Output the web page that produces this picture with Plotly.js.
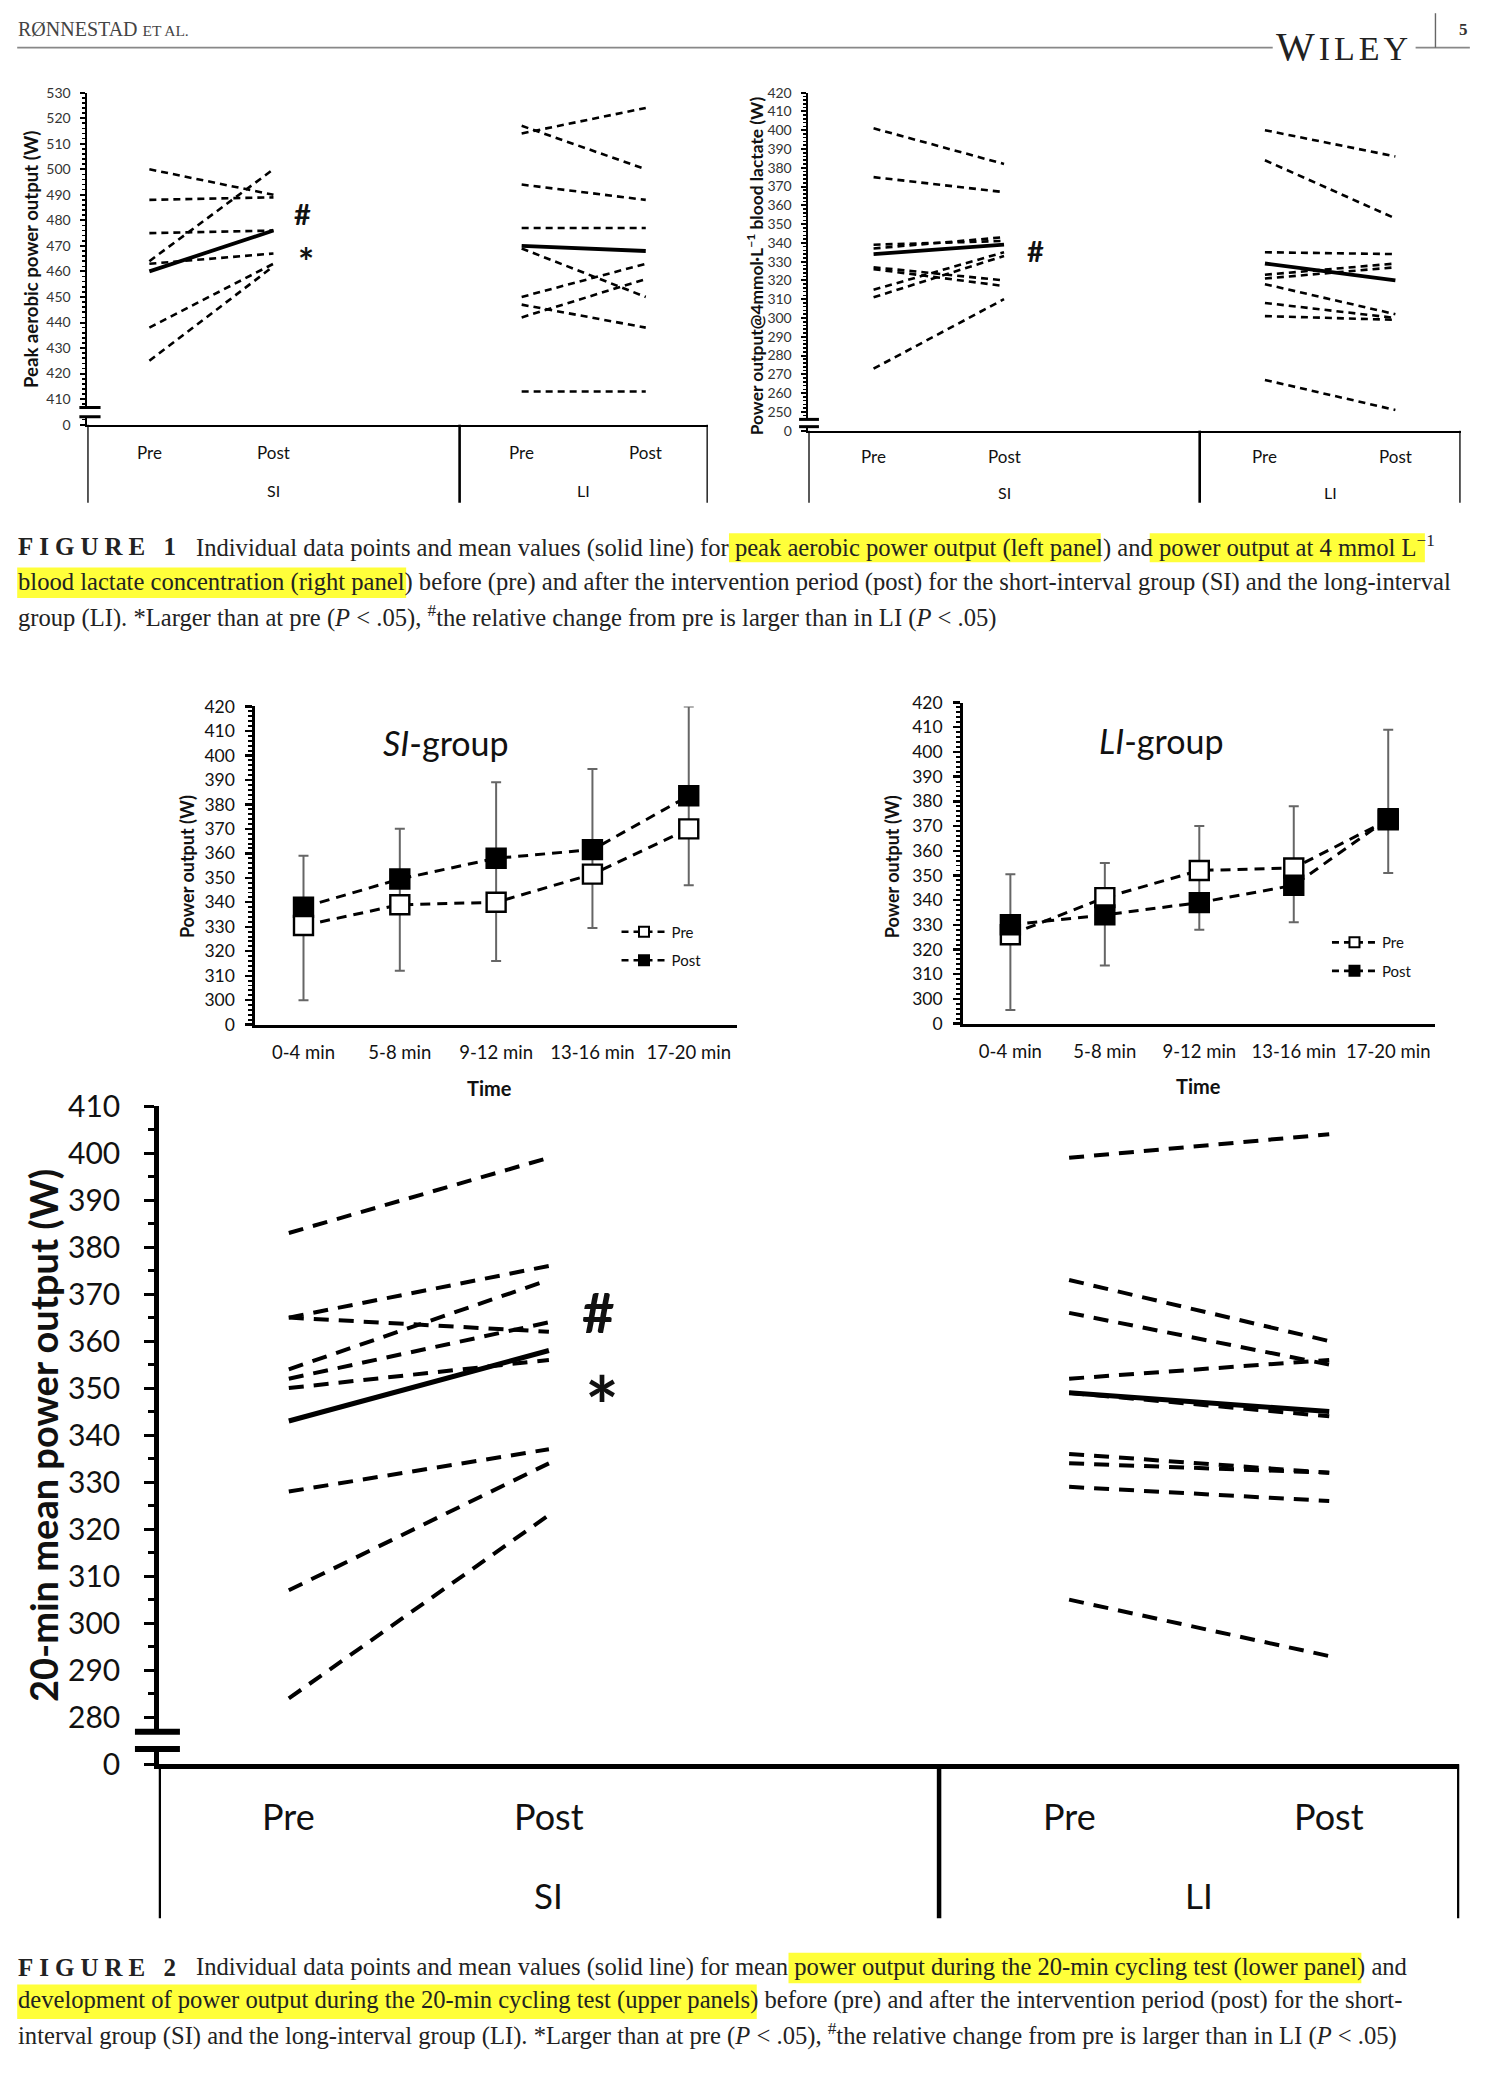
<!DOCTYPE html>
<html>
<head>
<meta charset="utf-8">
<script src="https://cdn.plot.ly/plotly-3.0.1.min.js"></script>
<style>
html,body{margin:0;padding:0;background:#fff;}
#chart{width:1504px;height:2074px;}
</style>
</head>
<body>
<div id="chart"></div>
<script>
// ================= DATA =================
// x slots of the Pre/Post panels (blank slot separates the groups)
const groupSlots  = ['SI Pre', 'SI Post', '', 'LI Pre', 'LI Post'];
const phaseLabels = ['Pre', 'Post'];
const groupLabels = ['SI', 'LI'];

// Figure 1, left: peak aerobic power output (W)
const peakSIPre  = [500, 488, 464, 475, 463, 438, 425];
const peakSIPost = [490, 489, 500, 476, 467, 463, 462];
const peakSIMean = [460, 476];
const peakLIPre  = [514, 517, 494, 477, 469, 450, 447, 442, 413];
const peakLIPost = [524, 500, 488, 477, 450, 463, 438, 457, 413];
const peakLIMean = [470, 468];
const peakTicks    = [400, 410, 420, 430, 440, 450, 460, 470, 480, 490, 500, 510, 520, 530];
const peakTickText = ['0', '410', '420', '430', '440', '450', '460', '470', '480', '490', '500', '510', '520', '530'];

// Figure 1, right: power output at 4 mmol/L blood lactate (W)
const lacSIPre  = [401, 375, 339, 337, 327, 326, 315, 311, 273];
const lacSIPost = [382, 367, 341, 343, 320, 317, 335, 333, 310];
const lacSIMean = [334, 339];
const lacLIPre  = [400, 384, 335, 323, 321, 318, 308, 301, 267];
const lacLIPost = [386, 353, 334, 329, 327, 302, 300, 299, 251];
const lacLIMean = [329, 320];
const lacTicks    = [240, 250, 260, 270, 280, 290, 300, 310, 320, 330, 340, 350, 360, 370, 380, 390, 400, 410, 420];
const lacTickText = ['0', '250', '260', '270', '280', '290', '300', '310', '320', '330', '340', '350', '360', '370', '380', '390', '400', '410', '420'];

// Figure 2, upper panels: power output during the 20-min test (W)
const timeLabels = ['0-4 min', '5-8 min', '9-12 min', '13-16 min', '17-20 min'];
const siTimePre   = [330.5, 339, 340, 351.5, 370];
const siTimePost  = [338, 349.5, 358, 361.5, 383.5];
const siErrHigh   = [359, 370, 389, 394.5, 420];
const siErrLow    = [300, 312, 316, 329.5, 347];
const liTimePre   = [326, 341, 352, 353, 372.5];
const liTimePost  = [330, 334, 339, 346, 373];
const liErrHigh   = [350.5, 355, 370, 378, 409];
const liErrLow    = [295.5, 313.5, 328, 331, 351];
const timeTicks    = [290, 300, 310, 320, 330, 340, 350, 360, 370, 380, 390, 400, 410, 420];
const timeTickText = ['0', '300', '310', '320', '330', '340', '350', '360', '370', '380', '390', '400', '410', '420'];

// Figure 2, lower panel: 20-min mean power output (W)
const mpSIPre  = [383, 365, 365, 354, 352, 350, 328, 307, 284];
const mpSIPost = [399, 376, 362, 373, 364, 356, 337, 334, 323];
const mpSIMean = [343, 358];
const mpLIPre  = [399, 373, 366, 352, 349, 336, 334, 329, 305];
const mpLIPost = [404, 360, 355, 356, 344, 332, 332, 326, 293];
const mpLIMean = [349, 345];
const mpTicks    = [270, 280, 290, 300, 310, 320, 330, 340, 350, 360, 370, 380, 390, 400, 410];
const mpTickText = ['0', '280', '290', '300', '310', '320', '330', '340', '350', '360', '370', '380', '390', '400', '410'];

// ================= LAYOUT HELPERS =================
const W = 1504, H = 2074;
const S = 1.323;                      // reference-display px -> page px
const fx = d => d * S / W;            // paper x
const fy = d => 1 - d * S / H;        // paper y
const slot = name => groupSlots.indexOf(name);
const FONT = 'Lato, "Open Sans", sans-serif';
const SERIF = '"Liberation Serif", "DejaVu Serif", serif';

const traces = [];
const shapes = [];
const annotations = [];

function ann(text, xd, yd, size, extra) {
  return Object.assign({
    text: text, xref: 'paper', yref: 'paper', x: fx(xd), y: fy(yd),
    showarrow: false, xanchor: 'center', yanchor: 'middle',
    font: {family: FONT, size: size, color: '#111'}
  }, extra || {});
}

function pairPanel(ax, pre, post, mean, group, st) {
  const xs = [slot(group + ' Pre'), slot(group + ' Post')];
  pre.forEach((v, i) => traces.push({
    type: 'scatter', mode: 'lines', x: xs, y: [v, post[i]],
    xaxis: 'x' + ax, yaxis: 'y' + ax, showlegend: false, hoverinfo: 'skip',
    line: {color: '#000', width: st.w, dash: st.dash}
  }));
  traces.push({
    type: 'scatter', mode: 'lines', x: xs, y: mean,
    xaxis: 'x' + ax, yaxis: 'y' + ax, showlegend: false, hoverinfo: 'skip',
    line: {color: '#000', width: st.mw}
  });
}

function yAxis(botD, topD, ticks, text, o) {
  return {
    domain: [fy(botD), fy(topD)], range: [ticks[0], ticks[ticks.length - 1]],
    tickmode: 'array', tickvals: ticks, ticktext: text,
    ticks: 'outside', ticklen: o.tl, tickwidth: o.tw, tickcolor: '#000',
    minor: {tickmode: 'linear', tick0: ticks[0], dtick: o.minor, ticks: 'outside',
            ticklen: o.ml, tickwidth: o.tw * 0.8, tickcolor: '#000'},
    showline: true, linewidth: o.lw, linecolor: '#000',
    showgrid: false, zeroline: false, fixedrange: true,
    tickfont: {family: o.family || FONT, size: o.fs, color: o.col || '#111'},
    ticklabelstandoff: o.so, anchor: o.anchor
  };
}

function slotXAxis(lD, rD, anchor, lw) {
  return {
    domain: [fx(lD), fx(rD)], range: [-0.5, groupSlots.length - 0.5],
    showticklabels: false, ticks: '', showgrid: false, zeroline: false,
    showline: true, linewidth: lw, linecolor: '#000', anchor: anchor, fixedrange: true
  };
}

// table lines under a Pre/Post panel, group & phase labels, axis break
function tableDecor(ax, baseD, bottomD, lw, phaseY, groupY, phaseSize, groupSize, brk) {
  [-0.5, 2.5, groupSlots.length - 0.5].forEach(xv => shapes.push({
    type: 'line', xref: 'x' + ax, yref: 'paper', x0: xv, x1: xv,
    y0: fy(baseD), y1: fy(bottomD), line: {color: '#000', width: lw}
  }));
  ['SI', 'LI'].forEach(g => phaseLabels.forEach(p => annotations.push({
    text: p, xref: 'x' + ax, yref: 'paper', x: slot(g + ' ' + p), y: fy(phaseY),
    showarrow: false, xanchor: 'center', yanchor: 'middle',
    font: {family: FONT, size: phaseSize, color: '#111'}
  })));
  annotations.push({text: groupLabels[0], xref: 'x' + ax, yref: 'paper', x: slot('SI Post'),
    y: fy(groupY), showarrow: false, xanchor: 'center', yanchor: 'middle',
    font: {family: FONT, size: groupSize, color: '#111'}});
  annotations.push({text: groupLabels[1], xref: 'x' + ax, yref: 'paper',
    x: (slot('LI Pre') + slot('LI Post')) / 2, y: fy(groupY), showarrow: false,
    xanchor: 'center', yanchor: 'middle',
    font: {family: FONT, size: groupSize, color: '#111'}});
  // axis break "="
  shapes.push({type: 'rect', xref: 'paper', yref: 'paper', layer: 'above',
    x0: fx(brk.x0), x1: fx(brk.x1), y0: fy(brk.y1), y1: fy(brk.y0),
    fillcolor: '#fff', line: {width: 0}});
  [brk.y0, brk.y1].forEach(yv => shapes.push({type: 'line', xref: 'paper', yref: 'paper', layer: 'above',
    x0: fx(brk.x0), x1: fx(brk.x1), y0: fy(yv), y1: fy(yv), line: {color: '#000', width: brk.w}}));
}

// ================= FIGURE 1 =================
const f1Dash = {w: 2.6, mw: 3.8, dash: '7px,5px'};
pairPanel('', peakSIPre, peakSIPost, peakSIMean, 'SI', f1Dash);
pairPanel('', peakLIPre, peakLIPost, peakLIMean, 'LI', f1Dash);
pairPanel('2', lacSIPre, lacSIPost, lacSIMean, 'SI', f1Dash);
pairPanel('2', lacLIPre, lacLIPost, lacLIMean, 'LI', f1Dash);

const f1y = {tl: 5, tw: 2, ml: 3, minor: 2, lw: 2.8, fs: 14, so: 6, col: '#333'};

tableDecor('', 321, 380, 2.6, 342, 371, 17, 16, {x0: 60, x1: 76, y0: 308, y1: 315, w: 3});
tableDecor('2', 325.5, 380, 2.6, 345, 372, 17, 16, {x0: 604, x1: 619, y0: 317, y1: 322.5, w: 3});

annotations.push(ann('<b>Peak aerobic power output (W)</b>', 24, 196, 18.6, {textangle: -90}));
annotations.push(ann('<b>Power output@4mmol·L<sup>−1</sup> blood lactate (W)</b>', 571, 201, 17.4, {textangle: -90}));
annotations.push(ann('<b>#</b>', 229, 161, 29));
annotations.push(ann('<b>*</b>', 231, 197, 38));
annotations.push(ann('<b>#</b>', 783, 189, 29));

// ================= FIGURE 2 upper =================
function timePanel(ax, pre, post, hi, lo, legendId, preOnTop) {
  traces.push({
    type: 'scatter', mode: 'markers', x: timeLabels,
    y: hi.map((h, i) => (h + lo[i]) / 2),
    error_y: {type: 'data', symmetric: true, array: hi.map((h, i) => (h - lo[i]) / 2),
              color: '#666', thickness: 2, width: 5},
    marker: {size: 1, color: 'rgba(0,0,0,0)'},
    xaxis: 'x' + ax, yaxis: 'y' + ax, showlegend: false, hoverinfo: 'skip'
  });
  const mk = (name, ys, fill) => ({
    type: 'scatter', mode: 'lines+markers', x: timeLabels, y: ys, name: name,
    xaxis: 'x' + ax, yaxis: 'y' + ax, showlegend: false, hoverinfo: 'skip',
    line: {color: '#000', width: 3, dash: '10px,7px'},
    marker: {symbol: 'square', size: 19, color: fill, line: {color: '#000', width: 2.4}}
  });
  const tPre = mk('Pre', pre, '#fff'), tPost = mk('Post', post, '#000');
  if (preOnTop) { traces.push(tPost, tPre); } else { traces.push(tPre, tPost); }
  // legend entries
  [['Pre', '#fff'], ['Post', '#000']].forEach(([n, f]) => traces.push({
    type: 'scatter', mode: 'lines+markers', x: [null], y: [null], name: n,
    xaxis: 'x' + ax, yaxis: 'y' + ax, legend: legendId, legendgroup: n + ax,
    line: {color: '#000', width: 2.6, dash: '7px,5px'},
    marker: {symbol: 'square', size: 10, color: f, line: {color: '#000', width: 2}}
  }));
}
timePanel('3', siTimePre, siTimePost, siErrHigh, siErrLow, 'legend', true);
timePanel('4', liTimePre, liTimePost, liErrHigh, liErrLow, 'legend2', false);

const f2y = {tl: 7, tw: 2.4, ml: 4, minor: 2, lw: 3, fs: 17.5, so: 7};
function timeXAxis(lD, rD, anchor) {
  return {
    domain: [fx(lD), fx(rD)], type: 'category', categoryarray: timeLabels, categoryorder: 'array',
    range: [-0.5, timeLabels.length - 0.5], ticks: '', showgrid: false, zeroline: false,
    showline: true, linewidth: 3, linecolor: '#000', anchor: anchor, fixedrange: true,
    tickfont: {family: FONT, size: 18.5, color: '#111'}, ticklabelstandoff: 9
  };
}
annotations.push(ann('<i>SI</i>-group', 337, 561, 34));
annotations.push(ann('<i>LI</i>-group', 878, 560, 34));
annotations.push(ann('<b>Power output (W)</b>', 141, 655, 18, {textangle: -90}));
annotations.push(ann('<b>Power output (W)</b>', 674, 655, 18, {textangle: -90}));
annotations.push(ann('<b>Time</b>', 370, 822, 20));
annotations.push(ann('<b>Time</b>', 906, 821, 20));

// ================= FIGURE 2 lower =================
const f2bDash = {w: 4, mw: 5, dash: '15px,10px'};
pairPanel('5', mpSIPre, mpSIPost, mpSIMean, 'SI', f2bDash);
pairPanel('5', mpLIPre, mpLIPost, mpLIMean, 'LI', f2bDash);
tableDecor('5', 1333.5, 1450, 4.5, 1373, 1432, 36, 35, {x0: 102, x1: 136, y0: 1309, y1: 1322, w: 6});
annotations.push(ann('<b>20-min mean power output (W)</b>', 33, 1085, 38, {textangle: -90}));
annotations.push(ann('<b>#</b>', 452, 991, 56));
annotations.push(ann('<b>*</b>', 455, 1062, 80));

// ================= PAGE HEADER =================
annotations.push(ann('RØNNESTAD <span style="font-size:15.5px">ET AL.</span>', 12, 22, 20,
  {xanchor: 'left', font: {family: SERIF, size: 20, color: '#444'}}));
annotations.push(ann('<span style="letter-spacing:4px">W<span style="font-size:34px">ILEY</span></span>', 1016, 35, 41,
  {font: {family: SERIF, size: 41, color: '#222'}}));
annotations.push(ann('<b>5</b>', 1106, 22, 17, {font: {family: SERIF, size: 17, color: '#333'}}));
shapes.push({type: 'line', xref: 'paper', yref: 'paper', x0: fx(13), x1: fx(962), y0: fy(36), y1: fy(36), line: {color: '#888', width: 1.6}});
shapes.push({type: 'line', xref: 'paper', yref: 'paper', x0: fx(1070), x1: fx(1111), y0: fy(36), y1: fy(36), line: {color: '#888', width: 1.6}});
shapes.push({type: 'line', xref: 'paper', yref: 'paper', x0: fx(1085), x1: fx(1085), y0: fy(10), y1: fy(36), line: {color: '#666', width: 1.4}});

// ================= CAPTIONS =================
const capFont = {family: SERIF, size: 24.6, color: '#222'};
const figFont = {family: SERIF, size: 25, color: '#222'};
function highlight(x0, x1, y0, y1) {
  shapes.push({type: 'rect', xref: 'paper', yref: 'paper', layer: 'below',
    x0: fx(x0), x1: fx(x1), y0: fy(y1), y1: fy(y0), fillcolor: '#FFFF3A', line: {width: 0}});
}
function capLine(text, xd, yd, font) {
  annotations.push(ann(text, xd, yd, font.size, {xanchor: 'left', font: font}));
}
highlight(551, 832, 403, 425);
highlight(869, 1077, 403, 425);
highlight(13, 307, 429, 452);
highlight(596, 1029, 1476, 1499);
highlight(13, 572, 1500, 1526);

capLine('<b><span style="letter-spacing:6px">FIGURE 1</span></b>', 12, 413, figFont);
capLine('Individual data points and mean values (solid line) for peak aerobic power output (left panel) and power output at 4 mmol L<sup>−1</sup>', 147, 413, capFont);
capLine('blood lactate concentration (right panel) before (pre) and after the intervention period (post) for the short-interval group (SI) and the long-interval', 12, 440, capFont);
capLine('group (LI). *Larger than at pre (<i>P</i> &lt; .05), <sup>#</sup>the relative change from pre is larger than in LI (<i>P</i> &lt; .05)', 12, 466, capFont);

capLine('<b><span style="letter-spacing:6px">FIGURE 2</span></b>', 12, 1487, figFont);
capLine('Individual data points and mean values (solid line) for mean power output during the 20-min cycling test (lower panel) and', 147, 1487, capFont);
capLine('development of power output during the 20-min cycling test (upper panels) before (pre) and after the intervention period (post) for the short-', 12, 1512, capFont);
capLine('interval group (SI) and the long-interval group (LI). *Larger than at pre (<i>P</i> &lt; .05), <sup>#</sup>the relative change from pre is larger than in LI (<i>P</i> &lt; .05)', 12, 1538, capFont);

// ================= LAYOUT =================
const legendBase = {xanchor: 'left', yanchor: 'top', traceorder: 'grouped', tracegroupgap: 6,
  itemwidth: 45, bgcolor: 'rgba(0,0,0,0)', font: {family: FONT, size: 15, color: '#111'}};
const layout = {
  width: W, height: H, margin: {l: 0, r: 0, t: 0, b: 0},
  paper_bgcolor: '#fff', plot_bgcolor: 'rgba(0,0,0,0)',
  showlegend: true,
  xaxis:  slotXAxis(66, 535, 'y', 2.8),
  yaxis:  yAxis(321, 70, peakTicks, peakTickText, Object.assign({anchor: 'x'}, f1y)),
  xaxis2: slotXAxis(611, 1104, 'y2', 2.8),
  yaxis2: yAxis(325.5, 70, lacTicks, lacTickText, Object.assign({anchor: 'x2'}, f1y)),
  xaxis3: timeXAxis(193, 557, 'y3'),
  yaxis3: yAxis(774.5, 534, timeTicks, timeTickText, Object.assign({anchor: 'x3'}, f2y)),
  xaxis4: timeXAxis(728, 1085, 'y4'),
  yaxis4: yAxis(773.7, 531, timeTicks, timeTickText, Object.assign({anchor: 'x4'}, f2y)),
  xaxis5: slotXAxis(120, 1103, 'y5', 4.5),
  yaxis5: yAxis(1333.5, 836, mpTicks, mpTickText,
    {anchor: 'x5', tl: 10, tw: 3, ml: 6, minor: 5, lw: 4.5, fs: 30, so: 18}),
  legend:  Object.assign({x: fx(466), y: fy(692)}, legendBase),
  legend2: Object.assign({x: fx(1003), y: fy(700)}, legendBase),
  shapes: shapes,
  annotations: annotations
};

Plotly.newPlot('chart', traces, layout, {staticPlot: true, displayModeBar: false});
</script>
</body>
</html>
